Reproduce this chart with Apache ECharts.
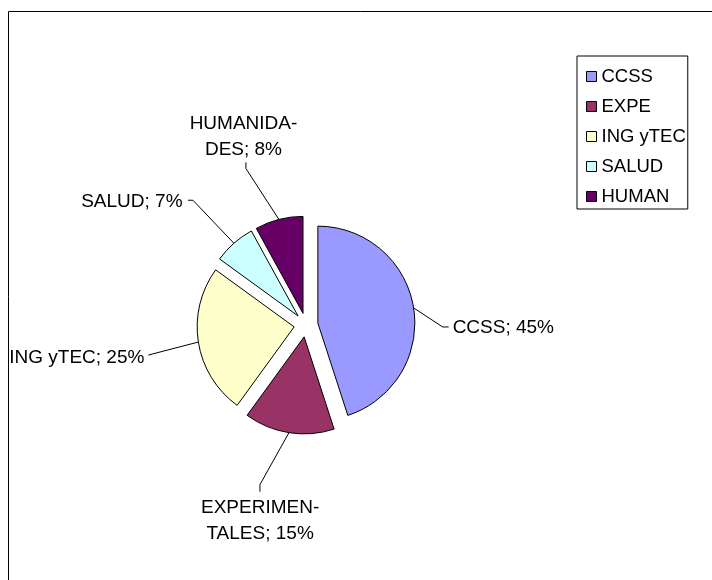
<!DOCTYPE html>
<html>
<head>
<meta charset="utf-8">
<script src="https://cdn.jsdelivr.net/npm/echarts@6/dist/echarts.min.js"></script>
<style>
  html, body { margin: 0; padding: 0; background: #fff; }
  #chart { width: 712px; height: 580px; }
</style>
</head>
<body>
<div id="chart"></div>
<script>
// data
var categories = ['CCSS', 'EXPE', 'ING yTEC', 'SALUD', 'HUMAN'];
var labelNames = ['CCSS', 'EXPERIMEN-\nTALES', 'ING yTEC', 'SALUD', 'HUMANIDA-\nDES'];
var shares = [45, 15, 25, 7, 8];

var colors = ['#9999FF', '#993366', '#FFFFCC', '#CCFFFF', '#660066'];
var font = 'Liberation Sans, Arial, sans-serif';

// where the text sits: [line length, line length2, line height, align, vAlign]
var labelSpot = [
  [2, 32, 40, 'left', 'top'],
  [63, 14, 26, 'center', 'top'],
  [2, 47, 30, 'right', 'top'],
  [55, 10, 26, 'right', 'middle'],
  [58, 16, 26, 'center', 'bottom']
];
// leader line shape, relative to where it leaves the slice: [elbow dx, elbow dy, end dx, end dy]
var leaderShape = [
  [29, 19, 35, 19],
  [-29, 52, -29, 59],
  [-50, 13, -50, 13],
  [-41, -43, -46, -43],
  [-33, -51, -33, -57]
];

var pieData = categories.map(function (c, i) {
  var s = labelSpot[i];
  return {
    name: c,
    value: shares[i],
    label: { formatter: labelNames[i] + '; {d}%', lineHeight: s[2] },
    labelLine: { length: s[0], length2: s[1] },
    itemStyle: { color: colors[i] },
    selected: true
  };
});

var myChart = echarts.init(document.getElementById('chart'));
var option = {
  animation: false,
  color: colors,
  graphic: [{
    type: 'rect',
    shape: { x: 8.5, y: 11.5, width: 760, height: 640 },
    style: { fill: 'none', stroke: '#000', lineWidth: 1 },
    silent: true
  }],
  legend: {
    orient: 'vertical',
    left: 577,
    top: 56,
    padding: [11, 2, 3, 9],
    itemGap: 11,
    itemWidth: 10,
    itemHeight: 10,
    icon: 'rect',
    borderColor: '#000',
    borderWidth: 1,
    selectedMode: false,
    itemStyle: { borderColor: '#000', borderWidth: 1 },
    textStyle: { fontFamily: font, fontSize: 18.5, lineHeight: 18, color: '#000' },
    data: categories
  },
  series: [{
    type: 'pie',
    center: [306, 325],
    radius: 97,
    startAngle: 90,
    clockwise: true,
    selectedMode: 'multiple',
    selectedOffset: 12,
    avoidLabelOverlap: false,
    itemStyle: { borderColor: '#000', borderWidth: 1 },
    select: { itemStyle: { borderColor: '#000', borderWidth: 1 } },
    emphasis: { disabled: true },
    label: {
      show: true,
      position: 'outside',
      fontFamily: font,
      fontSize: 19,
      lineHeight: 26,
      color: '#000'
    },
    labelLine: {
      show: true,
      lineStyle: { color: '#000', width: 1 }
    },
    labelLayout: function (params) {
      var i = params.dataIndex;
      var ls = leaderShape[i];
      var p0 = params.labelLinePoints[0];
      return {
        align: labelSpot[i][3],
        verticalAlign: labelSpot[i][4],
        labelLinePoints: [
          [p0[0], p0[1]],
          [p0[0] + ls[0], p0[1] + ls[1]],
          [p0[0] + ls[2], p0[1] + ls[3]]
        ]
      };
    },
    data: pieData
  }]
};
myChart.setOption(option);
window.addEventListener('resize', function () {
  myChart.resize();
});
</script>
</body>
</html>
